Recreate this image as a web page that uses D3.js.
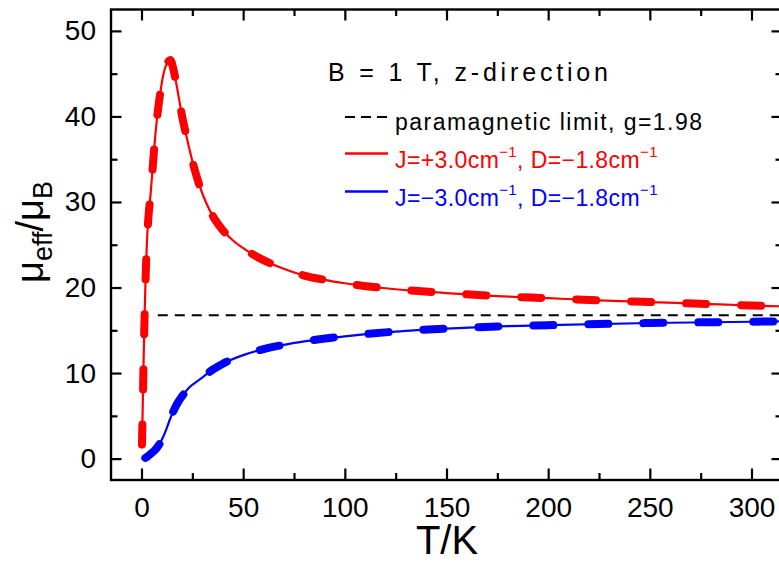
<!DOCTYPE html>
<html>
<head>
<meta charset="utf-8">
<script src="https://cdn.jsdelivr.net/npm/d3@7"></script>
<style>
  body { margin: 0; background: #fff; }
  text { font-family: "Liberation Sans", Arial, sans-serif; }
</style>
</head>
<body>
<div id="chart"></div>
<script>
// red curve, J=+3.0 cm-1
var redT = [0.2, 0.6, 1.0, 1.5, 2, 2.7, 3.5, 4.5, 5.5, 6.5, 7.5, 8.5, 9.5, 10.5, 11.5, 12.5, 13.5, 14.2, 15, 16, 17, 18.5, 20, 22, 25, 28, 32, 36, 40, 45, 50, 60, 70, 80, 90, 100, 125, 150, 175, 200, 225, 250, 275, 300, 315];
var redV = [1.2, 6, 11, 16.5, 21, 25.5, 28.5, 31, 34, 37, 39.5, 41.5, 43.2, 44.6, 45.6, 46.2, 46.5, 46.6, 46.2, 45.2, 44, 42, 40, 37.8, 34.8, 32.3, 29.8, 28.0, 26.7, 25.5, 24.6, 23.2, 22.2, 21.4, 20.9, 20.5, 19.8, 19.35, 19.0, 18.75, 18.5, 18.3, 18.1, 17.9, 17.8];

// blue curve, J=-3.0 cm-1
var blueT = [0, 1, 2, 3, 4, 5, 6, 8, 10, 12, 14, 16, 18, 20, 23, 26, 30, 35, 40, 50, 60, 70, 80, 100, 125, 150, 175, 200, 250, 300, 315];
var blueV = [0, 0.02, 0.1, 0.25, 0.45, 0.65, 0.85, 1.4, 2.2, 3.3, 4.6, 5.7, 6.6, 7.3, 8.2, 8.8, 9.5, 10.4, 11.1, 12.1, 12.8, 13.3, 13.7, 14.3, 14.85, 15.2, 15.45, 15.6, 15.85, 16.0, 16.05];

var paraLimit = 16.75;
var paraStart = 8;

var xTicks = [0, 50, 100, 150, 200, 250, 300];
var xMinor = [25, 75, 125, 175, 225, 275];
var yTicks = [0, 10, 20, 30, 40, 50];
var yMinor = [5, 15, 25, 35, 45];

var W = 779, H = 562;
var pLeft = 111, pRight = 782, pTop = 9.5, pBottom = 480;

var svg = d3.select("#chart").append("svg")
    .attr("width", W)
    .attr("height", H);

var x = d3.scaleLinear().domain([-15, 315]).range([pLeft, pRight]);
var y = d3.scaleLinear().domain([-2.5, 52.5]).range([pBottom, pTop]);

svg.append("defs").append("clipPath")
    .attr("id", "plotclip")
    .append("rect")
    .attr("x", pLeft).attr("y", pTop)
    .attr("width", pRight - pLeft).attr("height", pBottom - pTop);

// axes, ticks pointing inward
function styleAxis(g) {
    g.select(".domain").remove();
    g.selectAll(".tick line").attr("stroke", "#000").attr("stroke-width", 2.2);
    g.selectAll(".tick text").attr("fill", "#000").style("font-size", "28px");
}

svg.append("g")
    .attr("transform", `translate(0,${pBottom})`)
    .call(d3.axisBottom(x).tickValues(xTicks).tickSize(-11.5).tickPadding(17))
    .call(styleAxis);
svg.append("g")
    .attr("transform", `translate(0,${pBottom})`)
    .call(d3.axisBottom(x).tickValues(xMinor).tickSize(-7).tickFormat(""))
    .call(styleAxis);
svg.append("g")
    .attr("transform", `translate(0,${pTop})`)
    .call(d3.axisTop(x).tickValues(xTicks).tickSize(-11).tickFormat(""))
    .call(styleAxis);
svg.append("g")
    .attr("transform", `translate(0,${pTop})`)
    .call(d3.axisTop(x).tickValues(xMinor).tickSize(-6.5).tickFormat(""))
    .call(styleAxis);

svg.append("g")
    .attr("transform", `translate(${pLeft},0)`)
    .call(d3.axisLeft(y).tickValues(yTicks).tickSize(-10.5).tickPadding(15))
    .call(styleAxis);
svg.append("g")
    .attr("transform", `translate(${pLeft},0)`)
    .call(d3.axisLeft(y).tickValues(yMinor).tickSize(-6.5).tickFormat(""))
    .call(styleAxis);
svg.append("g")
    .attr("transform", `translate(${pRight},0)`)
    .call(d3.axisRight(y).tickValues(yTicks).tickSize(-10.5).tickFormat(""))
    .call(styleAxis);
svg.append("g")
    .attr("transform", `translate(${pRight},0)`)
    .call(d3.axisRight(y).tickValues(yMinor).tickSize(-6.5).tickFormat(""))
    .call(styleAxis);

// frame
svg.append("rect")
    .attr("x", pLeft).attr("y", pTop)
    .attr("width", pRight - pLeft).attr("height", pBottom - pTop)
    .attr("fill", "none")
    .attr("stroke", "#000")
    .attr("stroke-width", 2.4);

var plot = svg.append("g").attr("clip-path", "url(#plotclip)");

// paramagnetic limit
plot.append("line")
    .attr("x1", x(paraStart)).attr("x2", x(315))
    .attr("y1", y(paraLimit)).attr("y2", y(paraLimit))
    .attr("stroke", "#000")
    .attr("stroke-width", 2)
    .attr("stroke-dasharray", "10,7");

var line = d3.line()
    .x(function (d) { return x(d[0]); })
    .y(function (d) { return y(d[1]); })
    .curve(d3.curveMonotoneX);

var series = [
    { T: redT, V: redV, color: "#ff0000" },
    { T: blueT, V: blueV, color: "#0000ff" }
];

series.forEach(function (s) {
    var pts = s.T.map(function (t, i) { return [t, s.V[i]]; });
    plot.append("path")
        .attr("d", line(pts))
        .attr("fill", "none")
        .attr("stroke", s.color)
        .attr("stroke-width", 2.2);
    plot.append("path")
        .attr("d", line(pts))
        .attr("fill", "none")
        .attr("stroke", s.color)
        .attr("stroke-width", 8)
        .attr("stroke-linecap", "round")
        .attr("stroke-dasharray", "20,35")
        .attr("stroke-dashoffset", -4);
});

// axis titles
svg.append("text")
    .attr("x", 447).attr("y", 554)
    .attr("text-anchor", "middle")
    .style("font-size", "40px")
    .text("T/K");

var ylab = svg.append("text")
    .attr("transform", "translate(43,232) rotate(-90)")
    .attr("text-anchor", "middle")
    .style("font-size", "38px");
ylab.append("tspan").text("\u03bc");
ylab.append("tspan").attr("dy", 9).style("font-size", "27px").text("eff");
ylab.append("tspan").attr("dy", -9).text("/\u03bc");
ylab.append("tspan").attr("dy", 9).style("font-size", "27px").text("B");

// legend
svg.append("text")
    .attr("x", 328).attr("y", 81)
    .style("font-size", "25px")
    .attr("textLength", 280)
    .attr("lengthAdjust", "spacing")
    .text("B = 1 T, z-direction");

svg.append("line")
    .attr("x1", 345).attr("x2", 388)
    .attr("y1", 117).attr("y2", 117)
    .attr("stroke", "#000").attr("stroke-width", 2)
    .attr("stroke-dasharray", "10,6");
svg.append("text")
    .attr("x", 395).attr("y", 130)
    .style("font-size", "23px")
    .attr("textLength", 307)
    .attr("lengthAdjust", "spacing")
    .text("paramagnetic limit, g=1.98");

var legendRows = [
    { y: 153.5, base: 168, color: "#ff0000", J: "J=+3.0cm", D: "D=\u22121.8cm" },
    { y: 191.5, base: 206, color: "#0000ff", J: "J=\u22123.0cm", D: "D=\u22121.8cm" }
];
legendRows.forEach(function (r) {
    svg.append("line")
        .attr("x1", 345).attr("x2", 388)
        .attr("y1", r.y).attr("y2", r.y)
        .attr("stroke", r.color).attr("stroke-width", 2.5);
    var t = svg.append("text")
        .attr("x", 395).attr("y", r.base)
        .attr("fill", r.color)
        .style("font-size", "23px")
        .style("letter-spacing", "0.4px");
    t.append("tspan").text(r.J);
    t.append("tspan").attr("dy", -11).style("font-size", "15px").text("\u22121");
    t.append("tspan").attr("dy", 11).text(", ");
    t.append("tspan").text(r.D);
    t.append("tspan").attr("dy", -11).style("font-size", "15px").text("\u22121");
});
</script>
</body>
</html>
